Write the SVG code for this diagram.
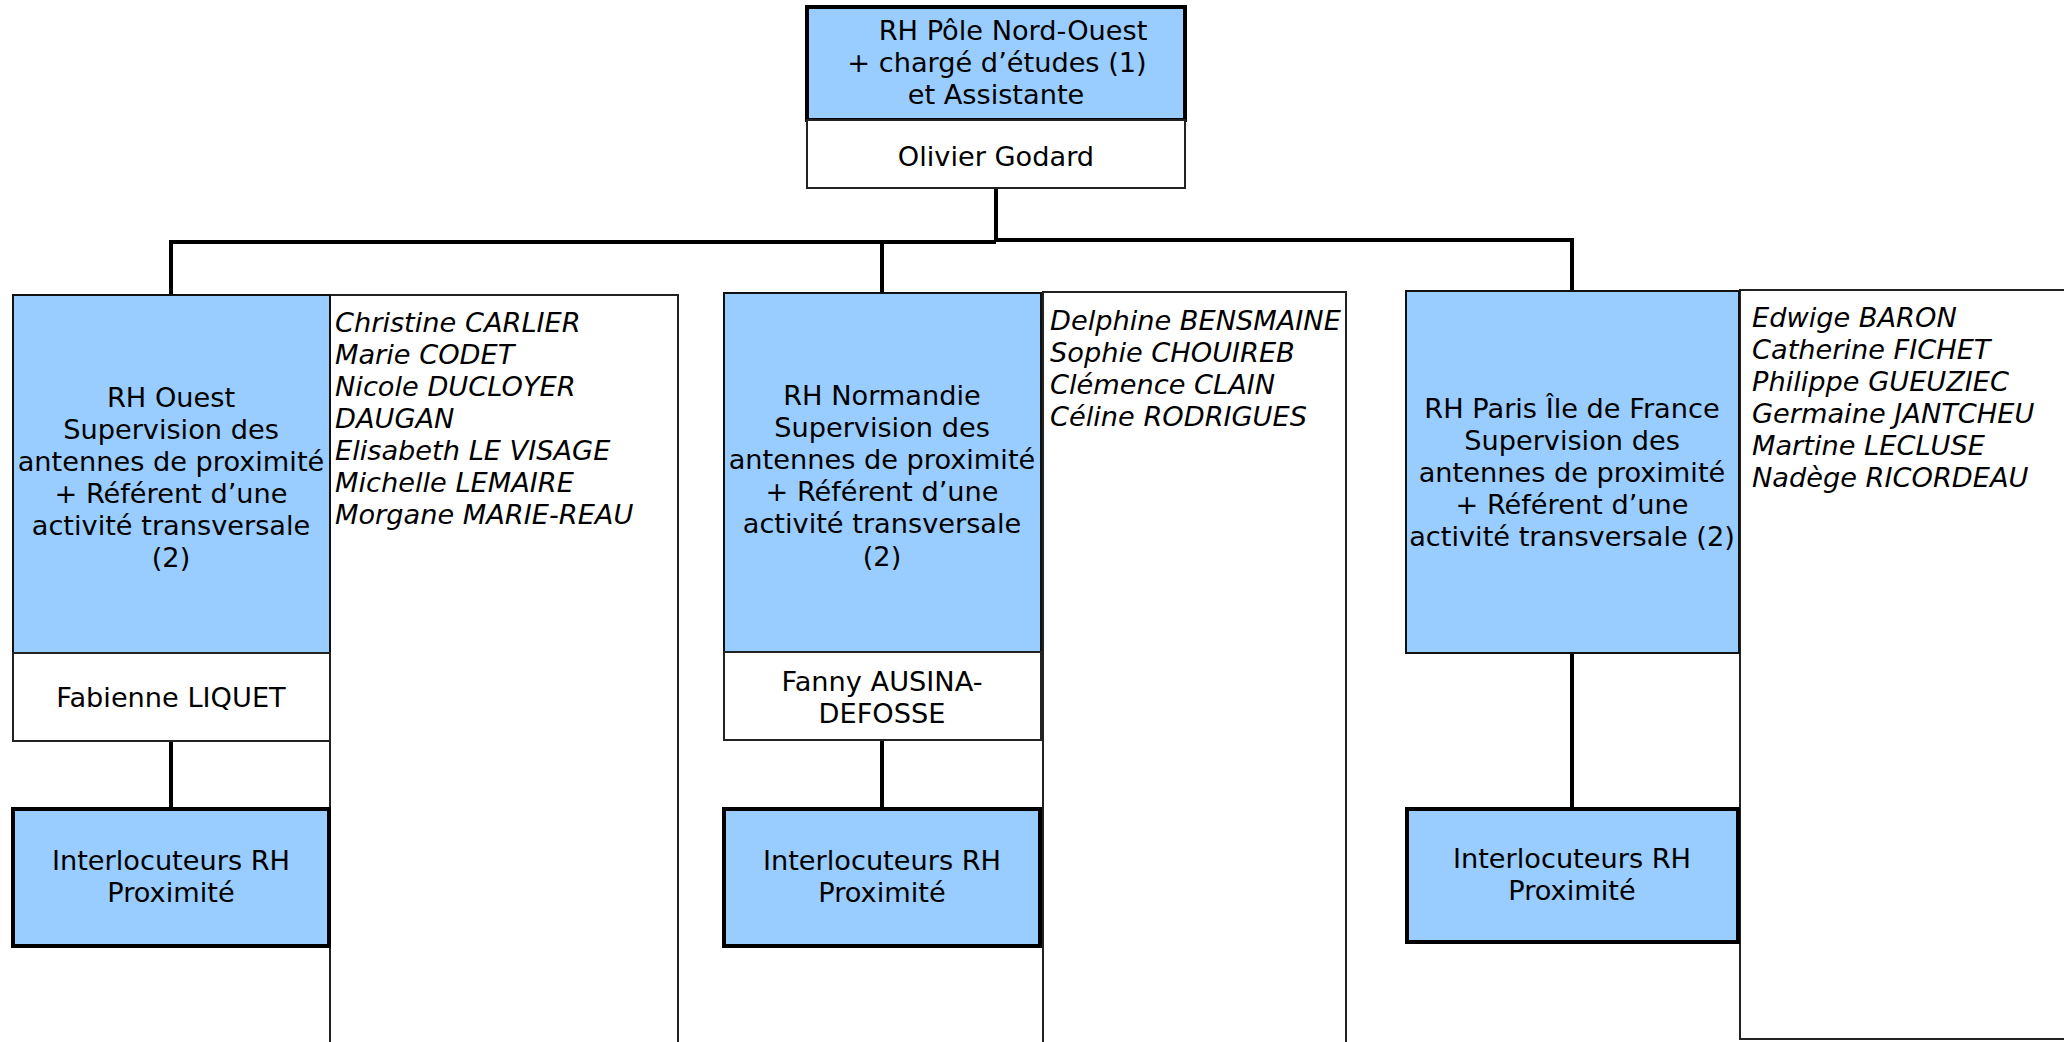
<svg xmlns="http://www.w3.org/2000/svg" width="2064" height="1042" viewBox="0 0 2064 1042">
<style>
.bg{fill:#ffffff}
.blue{fill:#99ccff;stroke:#111;stroke-width:2}
.bluethick{fill:#99ccff;stroke:#000;stroke-width:4}
.white{fill:#ffffff;stroke:#222;stroke-width:2}
.list{fill:#ffffff;stroke:#222;stroke-width:2}
.conn{fill:none;stroke:#000;stroke-width:4}
text{font-family:"DejaVu Sans","Liberation Sans",sans-serif;font-size:27.2px;fill:#000}
.c{text-anchor:middle}
.i{font-style:italic}
</style>
<rect class="bg" x="0" y="0" width="2064" height="1042"/>

<g id="connectors">
<path class="conn" d="M996,188 V241 M996,240 H1572 V291 M996,242 H171 V295 M882,242 V293"/>
<path class="conn" d="M171,741 V807 M882,740 V807 M1572,653 V807"/>
</g>

<g id="top">
<rect class="bluethick" x="807" y="7" width="378" height="113"/>
<rect class="white" x="807" y="120" width="378" height="68"/>
<text class="c" x="1013" y="40">RH Pôle Nord-Ouest</text>
<text class="c" x="997" y="72">+ chargé d’études (1)</text>
<text class="c" x="996" y="104">et Assistante</text>
<text class="c" x="996" y="166">Olivier Godard</text>
</g>

<g id="ouest-list">
<rect class="list" x="330" y="295" width="348" height="760"/>
<text class="i" x="335" y="332">Christine CARLIER</text>
<text class="i" x="335" y="364">Marie CODET</text>
<text class="i" x="335" y="396">Nicole DUCLOYER</text>
<text class="i" x="335" y="428">DAUGAN</text>
<text class="i" x="335" y="460">Elisabeth LE VISAGE</text>
<text class="i" x="335" y="492">Michelle LEMAIRE</text>
<text class="i" x="335" y="524">Morgane MARIE-REAU</text>
</g>

<g id="ouest">
<rect class="blue" x="13" y="295" width="317" height="358"/>
<rect class="white" x="13" y="653" width="317" height="88"/>
<text class="c" x="171" y="407">RH Ouest</text>
<text class="c" x="171" y="439">Supervision des</text>
<text class="c" x="171" y="471">antennes de proximité</text>
<text class="c" x="171" y="503">+ Référent d’une</text>
<text class="c" x="171" y="535">activité transversale</text>
<text class="c" x="171" y="567">(2)</text>
<text class="c" x="171" y="707">Fabienne LIQUET</text>
</g>

<g id="ouest-interlocuteurs">
<rect class="bluethick" x="13" y="809" width="316" height="137"/>
<text class="c" x="171" y="870">Interlocuteurs RH</text>
<text class="c" x="171" y="902">Proximité</text>
</g>

<g id="normandie-list">
<rect class="list" x="1043" y="292" width="303" height="760"/>
<text class="i" x="1050" y="330">Delphine BENSMAINE</text>
<text class="i" x="1050" y="362">Sophie CHOUIREB</text>
<text class="i" x="1050" y="394">Clémence CLAIN</text>
<text class="i" x="1050" y="426">Céline RODRIGUES</text>
</g>

<g id="normandie">
<rect class="blue" x="724" y="293" width="317" height="359"/>
<rect class="white" x="724" y="652" width="317" height="88"/>
<text class="c" x="882" y="405">RH Normandie</text>
<text class="c" x="882" y="437">Supervision des</text>
<text class="c" x="882" y="469">antennes de proximité</text>
<text class="c" x="882" y="501">+ Référent d’une</text>
<text class="c" x="882" y="533">activité transversale</text>
<text class="c" x="882" y="566">(2)</text>
<text class="c" x="882" y="691">Fanny AUSINA-</text>
<text class="c" x="882" y="723">DEFOSSE</text>
</g>

<g id="normandie-interlocuteurs">
<rect class="bluethick" x="724" y="809" width="316" height="137"/>
<text class="c" x="882" y="870">Interlocuteurs RH</text>
<text class="c" x="882" y="902">Proximité</text>
</g>

<g id="paris-list">
<rect class="list" x="1740" y="290" width="340" height="749"/>
<text class="i" x="1752" y="327">Edwige BARON</text>
<text class="i" x="1752" y="359">Catherine FICHET</text>
<text class="i" x="1752" y="391">Philippe GUEUZIEC</text>
<text class="i" x="1752" y="423">Germaine JANTCHEU</text>
<text class="i" x="1752" y="455">Martine LECLUSE</text>
<text class="i" x="1752" y="487">Nadège RICORDEAU</text>
</g>

<g id="paris">
<rect class="blue" x="1406" y="291" width="333" height="362"/>
<text class="c" x="1572" y="418">RH Paris Île de France</text>
<text class="c" x="1572" y="450">Supervision des</text>
<text class="c" x="1572" y="482">antennes de proximité</text>
<text class="c" x="1572" y="514">+ Référent d’une</text>
<text class="c" x="1572" y="546">activité transversale (2)</text>
</g>

<g id="paris-interlocuteurs">
<rect class="bluethick" x="1407" y="809" width="331" height="133"/>
<text class="c" x="1572" y="868">Interlocuteurs RH</text>
<text class="c" x="1572" y="900">Proximité</text>
</g>
</svg>
